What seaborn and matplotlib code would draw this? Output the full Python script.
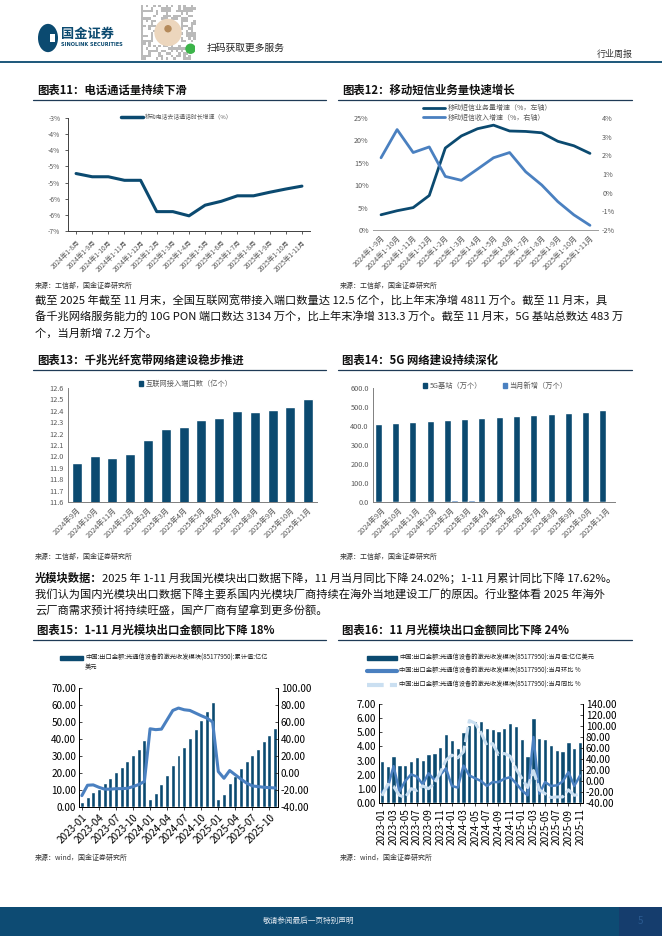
import numpy as np
import pandas as pd
import matplotlib
matplotlib.use("Agg")
import matplotlib.pyplot as plt
import seaborn as sns
from matplotlib.lines import Line2D
from matplotlib.patches import Rectangle, Circle, Patch
from matplotlib.ticker import FuncFormatter, FormatStrFormatter

sns.set_theme(style="ticks")
plt.rcParams['font.family'] = ['Noto Sans CJK SC', 'DejaVu Sans']
plt.rcParams['axes.unicode_minus'] = False

# ---------------- data ----------------
# 图表11 移动电话去话通话时长增速 (%)
call_labels = ['2024年1-8月', '2024年1-9月', '2024年1-10月', '2024年1-11月', '2024年1-12月',
               '2025年1-2月', '2025年1-3月', '2025年1-4月', '2025年1-5月', '2025年1-6月',
               '2025年1-7月', '2025年1-8月', '2025年1-9月', '2025年1-10月', '2025年1-11月']
call_growth = [-4.72, -4.82, -4.82, -4.93, -4.93, -5.90, -5.90, -6.03,
               -5.70, -5.58, -5.41, -5.41, -5.30, -5.20, -5.11]

# 图表12 移动短信业务量增速 / 收入增速
sms_labels = ['2024年1-9月', '2024年1-10月', '2024年1-11月', '2024年1-12月', '2025年1-2月',
              '2025年1-3月', '2025年1-4月', '2025年1-5月', '2025年1-6月', '2025年1-7月',
              '2025年1-8月', '2025年1-9月', '2025年1-10月', '2025年1-11月']
sms_volume = [3.4, 4.3, 5.0, 7.7, 18.3, 21.0, 22.6, 23.4, 22.1, 22.0, 21.7, 19.8, 18.8, 17.1]
sms_revenue = [1.87, 3.38, 2.15, 2.45, 0.87, 0.66, 1.26, 1.87, 2.15, 1.12, 0.41, -0.48, -1.19, -1.75]

# 图表13 互联网接入端口数 (亿个)
port_labels = ['2024年9月', '2024年10月', '2024年11月', '2024年12月', '2025年2月', '2025年3月',
               '2025年4月', '2025年5月', '2025年6月', '2025年7月', '2025年8月', '2025年9月',
               '2025年10月', '2025年11月']
port_values = [11.94, 12.00, 11.99, 12.02, 12.14, 12.24, 12.26, 12.32, 12.34, 12.40,
               12.39, 12.41, 12.43, 12.50]

# 图表14 5G基站 / 当月新增 (万个)
bs_labels = port_labels
bs_total = [410, 414, 419, 425, 430, 437, 442, 446, 451, 456, 461, 467, 472, 483]
bs_new = [4.1, 4.0, 4.2, 4.3, 10.5, 10.2, 4.4, 4.6, 4.8, 4.5, 4.6, 4.9, 5.0, 7.2]

# 图表15/16 光模块出口
months = [f"{y}-{m:02d}" for y in (2023, 2024, 2025) for m in range(1, 13)][:35]
cum_value = [2.9, 5.9, 8.8, 10.7, 14.1, 17.1, 20.6, 23.6, 27.1, 30.6, 34.2, 39.5,
             4.7, 8.3, 13.6, 18.9, 24.8, 30.6, 35.4, 40.7, 46.0, 51.3, 56.6, 61.9,
             4.7, 7.7, 14.1, 18.3, 23.0, 27.1, 30.6, 34.2, 38.9, 42.4, 46.4]
cum_yoy = [-26.6, -14.4, -14.0, -16.8, -19.0, -19.0, -18.4, -18.4, -18.0, -16.0, -13.6, -10.0,
           52.0, 51.0, 51.6, 62.6, 73.6, 76.4, 74.4, 73.6, 70.5, 67.4, 64.6, 60.0,
           1.7, -6.2, 2.9, -2.2, -7.3, -12.0, -15.2, -16.0, -16.8, -17.2, -17.6]
mon_value = [2.95, 2.6, 3.3, 2.7, 2.7, 3.0, 3.25, 3.05, 3.5, 3.55, 3.95, 4.85,
             4.45, 3.9, 5.0, 5.5, 5.8, 5.8, 5.3, 5.2, 5.1, 5.3, 5.65, 5.45,
             4.5, 3.3, 6.0, 4.6, 4.5, 4.1, 3.75, 3.7, 4.3, 3.9, 4.3]
mon_mom = [-20, -12, 27, -19, 0, 12, 8, -6, 14, 2, 11, 23,
           -9, -12, 28, 10, 5, 0, -9, -2, -2, 4, 7, -4,
           -17, -26, 80, -23, -2, -9, -8, -1, 16, -9, 10]
mon_yoy = [-27, -6, -10, -26, -30, -14, -17, -9, -14, -4, 15, 38,
           47, 42, 53, 110, 105, 88, 65, 68, 48, 50, 45, 22,
           5, -12, 19, -16, -23, -30, -29, -29, -16, -26, -24]

# ---------------- style ----------------
NAVY = '#0b4a70'
MID = '#4a80c0'
LIGHT = '#cadff1'
GRAY = '#595959'
W, H = 662, 936

fig = plt.figure(figsize=(W / 100, H / 100), dpi=100)


def ax_px(x0, y0, x1, y1):
    return fig.add_axes([x0 / W, 1 - y1 / H, (x1 - x0) / W, (y1 - y0) / H])


def txt(x, y, s, **kw):
    kw.setdefault('va', 'center')
    return fig.text(x / W, 1 - y / H, s, **kw)


def hline(x0, x1, y, color, lw):
    fig.add_artist(Line2D([x0 / W, x1 / W], [1 - y / H, 1 - y / H],
                          transform=fig.transFigure, color=color, lw=lw))


def legend_at(x, y, handle, label, fs, hl_px, color=GRAY, hh=0.7):
    fig.legend([handle], [label], loc='center left', bbox_to_anchor=(x / W, 1 - y / H),
               frameon=False, fontsize=fs, handlelength=hl_px / (fs * 100 / 72),
               handleheight=hh, handletextpad=0.35, borderpad=0, borderaxespad=0,
               labelcolor=color)


def style_axes(ax, visible=('left', 'bottom'), color='#808080'):
    for name, sp in ax.spines.items():
        sp.set_visible(name in visible)
        sp.set_color(color)
        sp.set_linewidth(0.7)
    ax.set_xlabel('')
    ax.set_ylabel('')


def excel_pct(v, pos):
    r = np.sign(v) * np.floor(abs(v) + 0.5 + 1e-9)
    return f"{r:.0f}%"


# ---------------- header ----------------
fig.add_artist(Circle((48 / W, 1 - 38 / H), 10 / W, transform=fig.transFigure,
                      color=NAVY, ec='none'))
fig.add_artist(Rectangle((50 / W, 1 - 42 / H), 5 / W, 8 / H, transform=fig.transFigure,
                         color='white', ec='none'))
txt(61, 34, '国金证券', fontsize=9.5, fontweight='bold', color=NAVY)
txt(61, 45, 'SINOLINK SECURITIES', fontsize=3.6, fontweight='bold', color=NAVY,
    family=['DejaVu Sans'])
qr = fig.add_axes([140 / W, 1 - 60 / H, 56 / W, 55 / H])
ii, jj = np.indices((22, 22))
pattern = (((ii * 5 + jj * 3) ^ (ii * jj)) % 5 < 2).astype(float)
pattern[6:16, 6:16] = np.nan
qr.imshow(pattern, cmap='Greys', vmin=0, vmax=2.6, interpolation='nearest')
qr.add_patch(Circle((10.5, 10.5), 5.2, color='#ecd6bd'))
qr.add_patch(Circle((10.5, 9.0), 1.2, color='#b58a5a'))
qr.add_patch(Circle((19.5, 17), 1.8, color='#3cb44a'))
qr.axis('off')
txt(207, 48, '扫码获取更多服务', fontsize=7, color='#222222')
txt(597, 54, '行业周报', fontsize=6.5, color='#333333')
hline(0, W, 62, NAVY, 1.3)

# ---------------- titles / sources / paragraphs ----------------
titles = [(37, 90, '图表11：电话通话量持续下滑'), (342, 90, '图表12：移动短信业务量快速增长'),
          (37, 360, '图表13：千兆光纤宽带网络建设稳步推进'), (342, 360, '图表14：5G 网络建设持续深化'),
          (37, 630, '图表15：1-11 月光模块出口金额同比下降 18%'),
          (342, 630, '图表16：11 月光模块出口金额同比下降 24%')]
for x, y, s in titles:
    txt(x, y, s, fontsize=8.2, fontweight='bold', color='#111111')
for y in (100, 370, 640):
    hline(33, 326, y, '#1e3a56', 0.9)
    hline(338, 632, y, '#1e3a56', 0.9)
for y, s in ((286, '来源：工信部，国金证券研究所'), (557, '来源：工信部，国金证券研究所'),
             (858, '来源：wind，国金证券研究所')):
    txt(35, y, s, fontsize=5, color='#333333')
    txt(340, y, s, fontsize=5, color='#333333')

PF = 8.1
para1 = ['截至 2025 年截至 11 月末，全国互联网宽带接入端口数量达 12.5 亿个，比上年末净增 4811 万个。截至 11 月末，具',
         '备千兆网络服务能力的 10G PON 端口数达 3134 万个，比上年末净增 313.3 万个。截至 11 月末，5G 基站总数达 483 万',
         '个，当月新增 7.2 万个。']
for k, s in enumerate(para1):
    txt(35, 301 + 16 * k, s, fontsize=PF, color='#111111')

bold_part = txt(35, 578, '光模块数据：', fontsize=PF, fontweight='bold', color='#111111')
fig.canvas.draw()
bb = bold_part.get_window_extent()
txt(bb.x1, 578, '2025 年 1-11 月我国光模块出口数据下降，11 月当月同比下降 24.02%；1-11 月累计同比下降 17.62%。',
    fontsize=PF, color='#111111')
txt(35, 594, '我们认为国内光模块出口数据下降主要系国内光模块厂商持续在海外当地建设工厂的原因。行业整体看 2025 年海外',
    fontsize=PF, color='#111111')
txt(35, 610, '云厂商需求预计将持续旺盛，国产厂商有望拿到更多份额。', fontsize=PF, color='#111111')

# ---------------- chart 11 ----------------
ax11 = ax_px(68, 118, 310, 231)
n11 = len(call_labels)
sns.lineplot(x=np.arange(n11), y=call_growth, ax=ax11, color=NAVY, linewidth=2.2)
ax11.set_xlim(-0.5, n11 - 0.5)
ax11.set_ylim(-6.5, -3.0)
ax11.set_yticks(np.arange(-6.5, -2.99, 0.5))
ax11.yaxis.set_major_formatter(FuncFormatter(excel_pct))
ax11.set_xticks(np.arange(n11))
ax11.set_xticklabels(call_labels, rotation=45, ha='right', rotation_mode='anchor')
style_axes(ax11, color='#404040')
ax11.tick_params(axis='both', labelsize=4.8, colors='#404040', labelcolor=GRAY, length=2, width=0.6)
legend_at(121, 117, Line2D([], [], color=NAVY, lw=2.5), '移动电话去话通话时长增速（%）', 4.2, 22)

# ---------------- chart 12 ----------------
ax12 = ax_px(373, 118, 598, 230)
ax12r = ax12.twinx()
n12 = len(sms_labels)
sns.lineplot(x=np.arange(n12), y=sms_volume, ax=ax12, color=NAVY, linewidth=2)
sns.lineplot(x=np.arange(n12), y=sms_revenue, ax=ax12r, color=MID, linewidth=2)
ax12.set_xlim(-0.5, n12 - 0.5)
ax12.set_ylim(0, 25)
ax12.set_yticks(np.arange(0, 26, 5))
ax12.yaxis.set_major_formatter(FuncFormatter(lambda v, p: f"{v:.0f}%"))
ax12r.set_ylim(-2, 4)
ax12r.set_yticks(np.arange(-2, 4.1, 1))
ax12r.yaxis.set_major_formatter(FuncFormatter(lambda v, p: f"{v:.0f}%"))
ax12.set_xticks(np.arange(n12))
ax12.set_xticklabels(sms_labels, rotation=45, ha='right', rotation_mode='anchor')
style_axes(ax12, visible=('bottom',), color='#a0a0a0')
style_axes(ax12r, visible=('bottom',), color='#a0a0a0')
for a in (ax12, ax12r):
    a.tick_params(axis='both', labelsize=5.2, labelcolor=GRAY, length=0, pad=3)
ax12.tick_params(axis='x', labelsize=5.2)
legend_at(423, 108, Line2D([], [], color=NAVY, lw=2), '移动短信业务量增速（%，左轴）', 5, 22)
legend_at(423, 117.5, Line2D([], [], color=MID, lw=2), '移动短信收入增速（%，右轴）', 5, 22)

# ---------------- chart 13 ----------------
ax13 = ax_px(68, 388, 317, 502)
sns.barplot(x=port_labels, y=port_values, ax=ax13, color=NAVY, saturation=1, width=0.56)
ax13.set_ylim(11.6, 12.6)
ax13.set_yticks(np.arange(11.6, 12.61, 0.1))
ax13.yaxis.set_major_formatter(FormatStrFormatter('%.1f'))
ax13.set_xlim(-0.5, len(port_labels) - 0.5)
ax13.set_xticks(np.arange(len(port_labels)))
ax13.set_xticklabels(port_labels, rotation=45, ha='right', rotation_mode='anchor')
style_axes(ax13, color='#808080')
ax13.tick_params(axis='both', labelsize=5.3, labelcolor=GRAY, length=0, pad=3)
legend_at(139, 384, Patch(color=NAVY), '互联网接入端口数（亿个）', 5.2, 4, hh=0.6)

# ---------------- chart 14 ----------------
ax14 = ax_px(373, 388, 615, 502)
df14 = pd.DataFrame({'月份': bs_labels * 2, '数量': bs_total + bs_new,
                     '系列': ['5G基站（万个）'] * len(bs_labels) + ['当月新增（万个）'] * len(bs_labels)})
sns.barplot(data=df14, x='月份', y='数量', hue='系列', palette=[NAVY, MID], saturation=1,
            width=0.8, ax=ax14, legend=False)
ax14.set_ylim(0, 600)
ax14.set_yticks(np.arange(0, 601, 100))
ax14.yaxis.set_major_formatter(FormatStrFormatter('%.1f'))
ax14.set_xlim(-0.5, len(bs_labels) - 0.5)
ax14.set_xticks(np.arange(len(bs_labels)))
ax14.set_xticklabels(bs_labels, rotation=45, ha='right', rotation_mode='anchor')
style_axes(ax14, color='#808080')
ax14.tick_params(axis='both', labelsize=5.3, labelcolor=GRAY, length=0, pad=3)
legend_at(423, 386, Patch(color=NAVY), '5G基站（万个）', 5.2, 4, hh=0.6)
legend_at(503, 386, Patch(color=MID), '当月新增（万个）', 5.2, 4, hh=0.6)

# ---------------- chart 15 ----------------
ax15 = ax_px(79, 688, 278, 807)
sns.barplot(x=months, y=cum_value, ax=ax15, color=NAVY, saturation=1, width=0.7)
ax15r = ax15.twinx()
sns.lineplot(x=np.arange(len(months)), y=cum_yoy, ax=ax15r, color=MID, linewidth=2.2)
ax15.set_xlim(-0.5, len(months) - 0.5)
ax15.set_ylim(0, 70)
ax15.set_yticks(np.arange(0, 71, 10))
ax15.yaxis.set_major_formatter(FormatStrFormatter('%.2f'))
ax15r.set_ylim(-40, 100)
ax15r.set_yticks(np.arange(-40, 101, 20))
ax15r.yaxis.set_major_formatter(FormatStrFormatter('%.2f'))
ax15.set_xticks(np.arange(0, len(months), 3))
ax15.set_xticklabels(months[::3], rotation=45, ha='right', rotation_mode='anchor')
style_axes(ax15, visible=('left', 'right', 'bottom'), color='#000000')
style_axes(ax15r, visible=('left', 'right', 'bottom'), color='#000000')
for a in (ax15, ax15r):
    a.tick_params(axis='both', labelsize=7.2, labelcolor='#000000', length=2, width=0.6,
                  direction='in', pad=2)
ax15.tick_params(axis='x', direction='out')
legend_at(60, 658, Patch(color=NAVY), '中国:出口金额:光通信设备的激光收发模块(85177950):累计值:亿亿',
          4.5, 23, color='#222222', hh=0.55)
txt(85, 667, '美元', fontsize=4.5, color='#222222')

# ---------------- chart 16 ----------------
ax16 = ax_px(379, 704, 583, 803)
sns.barplot(x=months, y=mon_value, ax=ax16, color=NAVY, saturation=1, width=0.74)
ax16r = ax16.twinx()
sns.lineplot(x=np.arange(len(months)), y=mon_mom, ax=ax16r, color=MID, linewidth=1.8)
sns.lineplot(x=np.arange(len(months)), y=mon_yoy, ax=ax16r, color=LIGHT, linewidth=2.2)
ax16r.get_lines()[-1].set_linestyle((0, (5, 1.2)))
ax16.set_xlim(-0.5, len(months) - 0.5)
ax16.set_ylim(0, 7)
ax16.set_yticks(np.arange(0, 7.1, 1))
ax16.yaxis.set_major_formatter(FormatStrFormatter('%.2f'))
ax16r.set_ylim(-40, 140)
ax16r.set_yticks(np.arange(-40, 141, 20))
ax16r.yaxis.set_major_formatter(FormatStrFormatter('%.2f'))
ax16.set_xticks(np.arange(0, len(months), 2))
ax16.set_xticklabels(months[::2], rotation=90, ha='center')
style_axes(ax16, visible=('left', 'right', 'bottom'), color='#000000')
style_axes(ax16r, visible=('left', 'right', 'bottom'), color='#000000')
for a in (ax16, ax16r):
    a.tick_params(axis='both', labelsize=7.2, labelcolor='#000000', length=2, width=0.6,
                  direction='in', pad=2)
ax16.tick_params(axis='x', direction='out')
legend_at(367, 658, Patch(color=NAVY), '中国:出口金额:光通信设备的激光收发模块(85177950):当月值:亿亿美元',
          4.5, 30, color='#222222', hh=0.6)
legend_at(367, 671, Line2D([], [], color=MID, lw=3), '中国:出口金额:光通信设备的激光收发模块(85177950):当月环比 %',
          4.5, 30, color='#222222')
legend_at(367, 685, Line2D([], [], color=LIGHT, lw=3, ls=(0, (4, 1.5))),
          '中国:出口金额:光通信设备的激光收发模块(85177950):当月同比 %', 4.5, 30, color='#222222')

# ---------------- footer ----------------
fig.add_artist(Rectangle((0, 0), 1, 29 / H, transform=fig.transFigure, color='#0d4b73', ec='none'))
fig.add_artist(Rectangle((619 / W, 0), 43 / W, 29 / H, transform=fig.transFigure,
                         color='#153d6d', ec='none'))
txt(309, 921, '敬请参阅最后一页特别声明', fontsize=5.5, color='#e0e8f0', ha='center')
txt(640, 921, '5', fontsize=7, color='#2a5a90', ha='center')

fig.savefig('out.png', dpi=100)
